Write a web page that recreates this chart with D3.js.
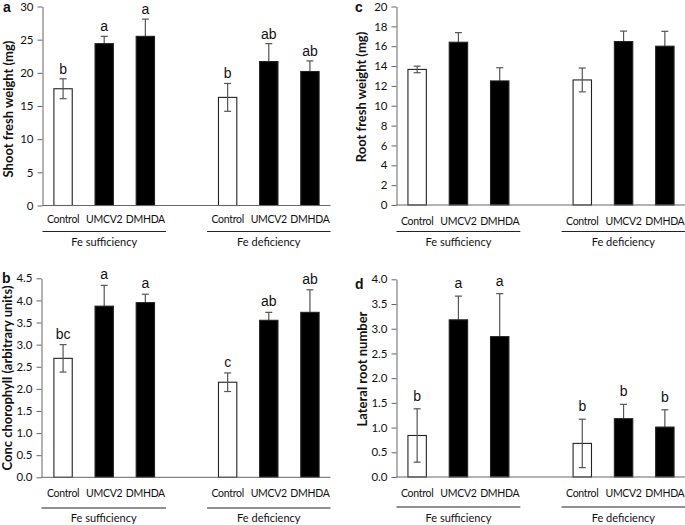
<!DOCTYPE html>
<html>
<head>
<meta charset="utf-8">
<script src="https://cdn.jsdelivr.net/npm/d3@7"></script>
<style>
  html, body { margin: 0; padding: 0; background: #fff; }
  svg { display: block; }
  text { font-family: Lato, "Liberation Sans", sans-serif; fill: #111; }
</style>
</head>
<body>
<svg id="chart" width="685" height="525"></svg>
<script>
// ---------- data ----------
const treatments = ["Control", "UMCV2", "DMHDA"];
const conditions = ["Fe sufficiency", "Fe deficiency"];

// panel a: shoot fresh weight (mg)
const shootValues  = [17.6, 24.4, 25.5, 16.3, 21.7, 20.2];
const shootErrors  = [1.5, 1.1, 2.6, 2.1, 2.7, 1.6];
const shootLetters = ["b", "a", "a", "b", "ab", "ab"];
const shootTicks   = [0, 5, 10, 15, 20, 25, 30];

// panel b: chlorophyll concentration (arbitrary units)
const chlValues  = [2.69, 3.87, 3.95, 2.15, 3.55, 3.73];
const chlErrors  = [0.31, 0.47, 0.19, 0.21, 0.18, 0.51];
const chlLetters = ["bc", "a", "a", "c", "ab", "ab"];
const chlTicks   = [0, 0.5, 1.0, 1.5, 2.0, 2.5, 3.0, 3.5, 4.0, 4.5];

// panel c: root fresh weight (mg)
const rootValues  = [13.66, 16.4, 12.5, 12.6, 16.47, 16.0];
const rootErrors  = [0.33, 0.97, 1.33, 1.2, 1.05, 1.5];
const rootLetters = [];
const rootTicks   = [0, 2, 4, 6, 8, 10, 12, 14, 16, 18, 20];

// panel d: lateral root number
const latValues  = [0.84, 3.18, 2.84, 0.68, 1.18, 1.01];
const latErrors  = [0.54, 0.48, 0.87, 0.49, 0.29, 0.35];
const latLetters = ["b", "a", "a", "b", "b", "b"];
const latTicks   = [0, 0.5, 1.0, 1.5, 2.0, 2.5, 3.0, 3.5, 4.0];

// ---------- layout ----------
const svg = d3.select("#chart");

// slot keys: 3 treatments, one empty slot, 3 treatments
const slots = [];
conditions.forEach((c, ci) => {
  treatments.forEach(t => slots.push(c + "|" + t));
  if (ci === 0) slots.push("gap");
});
const barKeys = slots.filter(s => s !== "gap");

const panels = [
  { letter: "a", title: "Shoot fresh weight (mg)", values: shootValues, errors: shootErrors,
    letters: shootLetters, ticks: shootTicks, fmt: d3.format("d"),
    x0: 42.5, x1: 330.5, y0: 205.5, y1: 6.5, axisX: 42.5,
    catY: 223, brY: 231.5, grpY: 245.5, titleX: 8.5, titleY: 109, tagX: 3, tagY: 12, letGap: 5 },
  { letter: "b", title: "Conc chorophyll (arbitrary units)", values: chlValues, errors: chlErrors,
    letters: chlLetters, ticks: chlTicks, fmt: d3.format(".1f"),
    x0: 42.5, x1: 330.5, y0: 477.3, y1: 278.3, axisX: 41.5,
    catY: 497, brY: 508, grpY: 522, titleX: 7.5, titleY: 378, tagX: 2, tagY: 283, letGap: 6 },
  { letter: "c", title: "Root fresh weight (mg)", values: rootValues, errors: rootErrors,
    letters: rootLetters, ticks: rootTicks, fmt: d3.format("d"),
    x0: 396.5, x1: 685.5, y0: 205, y1: 6.5, axisX: 396.5,
    catY: 225, brY: 231.5, grpY: 245.5, titleX: 361.5, titleY: 97, tagX: 355, tagY: 12, letGap: 5 },
  { letter: "d", title: "Lateral root number", values: latValues, errors: latErrors,
    letters: latLetters, ticks: latTicks, fmt: d3.format(".1f"),
    x0: 396.5, x1: 685.5, y0: 477, y1: 279.3, axisX: 396.5,
    catY: 496.5, brY: 507, grpY: 521.5, titleX: 362.5, titleY: 369, tagX: 355, tagY: 289, letGap: 8 }
];

const axisColor = "#666";

panels.forEach(p => {
  const g = svg.append("g");
  const ticks = p.ticks;
  const x = d3.scaleBand().domain(slots).range([p.x0, p.x1]).paddingInner(0.53).paddingOuter(0.265);
  const y = d3.scaleLinear().domain([ticks[0], ticks[ticks.length - 1]]).range([p.y0, p.y1]);
  const data = barKeys.map((k, i) => ({
    key: k, cond: k.split("|")[0], treat: k.split("|")[1],
    v: p.values[i], e: p.errors[i], lab: p.letters[i] || ""
  }));

  // y axis
  const yAxis = d3.axisLeft(y).tickValues(ticks).tickFormat(p.fmt).tickSize(5).tickSizeOuter(0).tickPadding(4);
  const ya = g.append("g").attr("transform", `translate(${p.axisX},0)`).call(yAxis);
  ya.select(".domain").attr("stroke", axisColor);
  ya.selectAll(".tick line").attr("stroke", axisColor);
  ya.selectAll(".tick text").style("font-family", "Lato, 'Liberation Sans', sans-serif")
    .style("font-size", "11.5px").attr("fill", "#222");

  // error bar drawer
  function drawErr(sel) {
    sel.each(function(d) {
      const cx = x(d.key) + x.bandwidth() / 2;
      const gg = d3.select(this);
      const yt = y(d.v + d.e), yb = y(Math.max(0, d.v - d.e));
      gg.append("line").attr("x1", cx).attr("x2", cx).attr("y1", yt).attr("y2", yb)
        .attr("stroke", "#555").attr("stroke-width", 1.2);
      gg.append("line").attr("x1", cx - 3.5).attr("x2", cx + 3.5).attr("y1", yt).attr("y2", yt)
        .attr("stroke", "#555").attr("stroke-width", 1.2);
      gg.append("line").attr("x1", cx - 3.5).attr("x2", cx + 3.5).attr("y1", yb).attr("y2", yb)
        .attr("stroke", "#555").attr("stroke-width", 1.2);
    });
  }

  const isCtrl = d => d.treat === "Control";

  // black bars: error bars underneath; white bars: error bars on top
  g.append("g").selectAll("g").data(data.filter(d => !isCtrl(d))).join("g").call(drawErr);
  g.append("g").selectAll("rect").data(data).join("rect")
    .attr("x", d => x(d.key) + 0.5)
    .attr("y", d => y(d.v))
    .attr("width", x.bandwidth() - 1)
    .attr("height", d => y(0) - y(d.v))
    .attr("fill", d => isCtrl(d) ? "#fff" : "#000")
    .attr("stroke", "#222")
    .attr("stroke-width", 1.1);
  g.append("g").selectAll("g").data(data.filter(isCtrl)).join("g").call(drawErr);

  // x axis line
  g.append("line").attr("x1", p.axisX).attr("x2", p.x1).attr("y1", p.y0).attr("y2", p.y0)
    .attr("stroke", axisColor).attr("stroke-width", 1);

  // significance letters
  g.append("g").selectAll("text").data(data.filter(d => d.lab)).join("text")
    .attr("x", d => x(d.key) + x.bandwidth() / 2)
    .attr("y", d => y(d.v + d.e) - p.letGap)
    .attr("text-anchor", "middle")
    .style("font-family", "'Liberation Sans', Arial, sans-serif")
    .style("font-size", "14px")
    .text(d => d.lab);

  // category labels
  g.append("g").selectAll("text").data(data).join("text")
    .attr("x", d => x(d.key) + x.bandwidth() / 2)
    .attr("y", p.catY)
    .attr("text-anchor", "middle")
    .style("font-size", "10.5px")
    .style("letter-spacing", "-0.3px")
    .text(d => d.treat);

  // group brackets and labels
  conditions.forEach((c, ci) => {
    const keys = slots.filter(s => s.startsWith(c + "|"));
    const first = keys[0], last = keys[keys.length - 1];
    const half = x.step() * x.paddingInner() / 2;
    const left = ci === 0 ? p.axisX : x(first) - half;
    const right = Math.min(x(last) + x.bandwidth() + half, 685);
    g.append("line").attr("x1", left).attr("x2", right).attr("y1", p.brY).attr("y2", p.brY)
      .attr("stroke", "#222").attr("stroke-width", 1);
    g.append("text").attr("x", (left + right) / 2).attr("y", p.grpY)
      .attr("text-anchor", "middle").style("font-size", "11px").text(c);
  });

  // y axis title
  g.append("text")
    .attr("transform", `translate(${p.titleX},${p.titleY}) rotate(-90)`)
    .attr("text-anchor", "middle")
    .attr("dy", "0.35em")
    .style("font-size", "13px")
    .style("font-weight", "bold")
    .text(p.title);

  // panel tag
  g.append("text").attr("x", p.tagX).attr("y", p.tagY)
    .style("font-family", "'Liberation Sans', Arial, sans-serif")
    .style("font-size", "14px").style("font-weight", "bold").text(p.letter);
});
</script>
</body>
</html>
